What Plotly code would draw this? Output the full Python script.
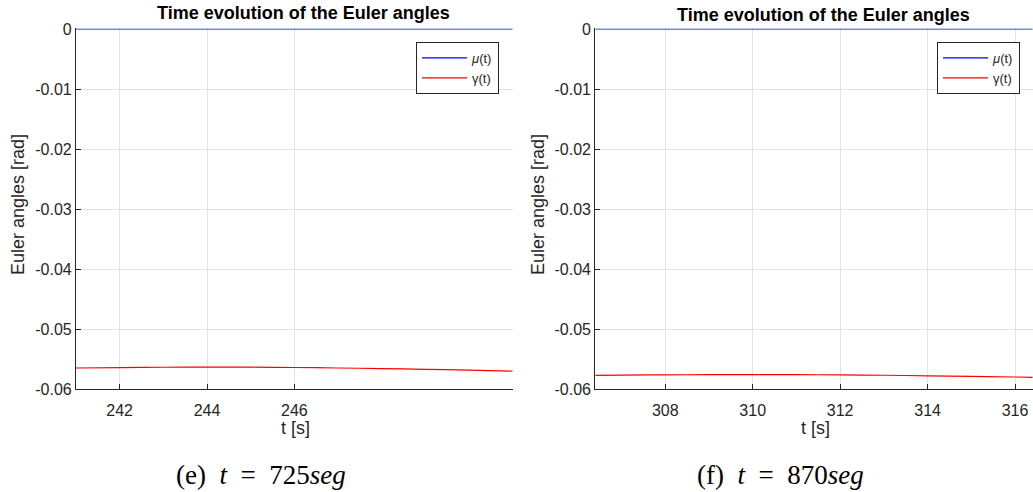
import plotly.graph_objects as go

# ---- data -------------------------------------------------------------
# window (e): t around 725 s mission time
t_e = [241, 242, 243, 244, 245, 246, 247, 248, 249, 250, 251]
mu_e = [0, 0, 0, 0, 0, 0, 0, 0, 0, 0, 0]
gamma_e = [-0.05645, -0.05638, -0.05633, -0.05630, -0.05632, -0.05637,
           -0.05645, -0.05655, -0.05667, -0.05680, -0.05697]

# window (f): t around 870 s mission time
t_f = [306.4, 307, 308, 309, 310, 311, 312, 313, 314, 315, 316, 316.4]
mu_f = [0, 0, 0, 0, 0, 0, 0, 0, 0, 0, 0, 0]
gamma_f = [-0.05767, -0.05763, -0.05760, -0.05756, -0.05755, -0.05756,
           -0.05760, -0.05766, -0.05775, -0.05785, -0.05795, -0.05800]

x_ticks_e = [242, 244, 246]
x_ticks_f = [308, 310, 312, 314, 316]
y_ticks = [0, -0.01, -0.02, -0.03, -0.04, -0.05, -0.06]
y_tick_text = ["0", "-0.01", "-0.02", "-0.03", "-0.04", "-0.05", "-0.06"]

title_text = "Time evolution of the Euler angles"
captions = ["(e)  <i>t</i>  =  725<i>seg</i>", "(f)  <i>t</i>  =  870<i>seg</i>"]

# ---- layout helpers ---------------------------------------------------
W, H = 1033, 492
SANS = "Liberation Sans, Arial, Helvetica, sans-serif"
SERIF = "Liberation Serif, Times New Roman, serif"
AX = "#262626"
GRID = "#e3e3e3"


def px(x):
    return x / W


def py(y):
    return 1 - y / H


fig = go.Figure()

fig.add_trace(go.Scatter(x=t_e, y=mu_e, mode="lines", name="<i>μ</i>(t)",
                         line=dict(color="#0000ff", width=1.2),
                         xaxis="x", yaxis="y", legend="legend"))
fig.add_trace(go.Scatter(x=t_e, y=gamma_e, mode="lines", name="γ(t)",
                         line=dict(color="#ff0000", width=1.2, shape="spline"),
                         xaxis="x", yaxis="y", legend="legend"))
fig.add_trace(go.Scatter(x=t_f, y=mu_f, mode="lines", name="<i>μ</i>(t)",
                         line=dict(color="#0000ff", width=1.2),
                         xaxis="x2", yaxis="y2", legend="legend2"))
fig.add_trace(go.Scatter(x=t_f, y=gamma_f, mode="lines", name="γ(t)",
                         line=dict(color="#ff0000", width=1.2, shape="spline"),
                         xaxis="x2", yaxis="y2", legend="legend2"))

# a hair of headroom above zero so the mu(t) line is not clipped at the top edge
Y_TOP = 0.0001
y_dom = [py(389.3), py(29 - Y_TOP * 6000)]
common_x = dict(showgrid=True, gridcolor=GRID, gridwidth=1, zeroline=False,
                showline=True, linecolor=AX, linewidth=1.2, mirror=False,
                ticks="inside", ticklen=5, tickcolor=AX,
                tickfont=dict(family=SANS, size=16, color=AX),
                ticklabelstandoff=6)
common_y = dict(showgrid=True, gridcolor=GRID, gridwidth=1, zeroline=False,
                showline=True, linecolor=AX, linewidth=1.2, mirror=False,
                ticks="inside", ticklen=5, tickcolor=AX,
                tickfont=dict(family=SANS, size=16, color=AX),
                range=[-0.06, Y_TOP], tickmode="array",
                tickvals=y_ticks, ticktext=y_tick_text, domain=y_dom)

legend_style = dict(xanchor="right", yanchor="top",
                    bgcolor="white", bordercolor=AX, borderwidth=1,
                    font=dict(family=SANS, size=13, color=AX),
                    tracegroupgap=0, itemwidth=45)

fig.update_layout(
    width=W, height=H,
    margin=dict(l=0, r=0, t=0, b=0, pad=0, autoexpand=False),
    paper_bgcolor="white", plot_bgcolor="white",
    xaxis=dict(common_x, domain=[px(76), px(512.7)], range=[241, 251],
               tickmode="array", tickvals=x_ticks_e, anchor="y"),
    yaxis=dict(common_y, anchor="x"),
    xaxis2=dict(common_x, domain=[px(595.3), 1.0], range=[306.4, 316.41],
                tickmode="array", tickvals=x_ticks_f, anchor="y2"),
    yaxis2=dict(common_y, anchor="x2"),
    legend=dict(legend_style, x=px(499), y=py(42)),
    legend2=dict(legend_style, x=px(1020), y=py(42)),
    showlegend=True,
)

annotations = []
# panel titles
for cx, cy in [(303.5, 13), (823, 15)]:
    annotations.append(dict(x=px(cx), y=py(cy), xref="paper", yref="paper",
                            text=f"<b>{title_text}</b>", showarrow=False,
                            xanchor="center", yanchor="middle",
                            font=dict(family=SANS, size=18, color="black")))
# x axis titles
for cx in [295, 815]:
    annotations.append(dict(x=px(cx), y=py(428), xref="paper", yref="paper",
                            text="t [s]", showarrow=False,
                            xanchor="center", yanchor="middle",
                            font=dict(family=SANS, size=18, color=AX)))
# y axis titles
for cx in [18, 538]:
    annotations.append(dict(x=px(cx), y=py(205), xref="paper", yref="paper",
                            text="Euler angles [rad]", showarrow=False,
                            textangle=-90, xanchor="center", yanchor="middle",
                            font=dict(family=SANS, size=18, color=AX)))
# sub-figure captions
for cx, cap in zip([261, 780], captions):
    annotations.append(dict(x=px(cx), y=py(475), xref="paper", yref="paper",
                            text=cap, showarrow=False,
                            xanchor="center", yanchor="middle",
                            font=dict(family=SERIF, size=27, color="black")))

fig.update_layout(annotations=annotations)

fig.write_html("out.html")
